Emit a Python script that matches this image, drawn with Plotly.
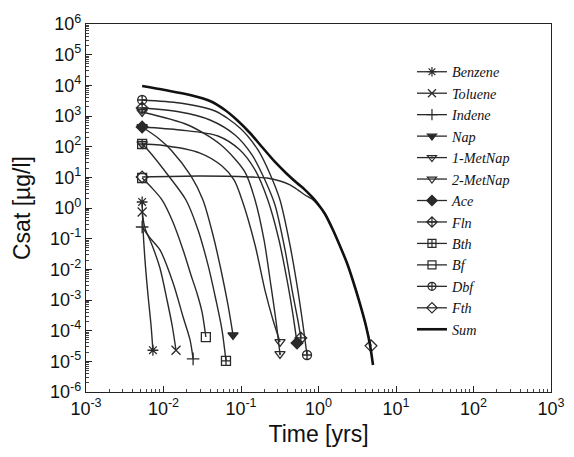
import plotly.graph_objects as go

# ---- data (time in years, Csat in ug/l) ----
names = ["Benzene", "Toluene", "Indene", "Nap", "1-MetNap", "2-MetNap",
         "Ace", "Fln", "Bth", "Bf", "Dbf", "Fth"]

benzene_t = [0.0053, 0.00544, 0.00577, 0.00631, 0.0069, 0.0073]
benzene_c = [1.57, 0.22, 0.020, 0.00145, 1.53e-4, 2.3e-5]

toluene_t = [0.0053, 0.00577, 0.00711, 0.0090, 0.0111, 0.0129, 0.0145]
toluene_c = [0.74, 0.22, 0.062, 0.011, 0.0010, 1.53e-4, 2.3e-5]

indene_t = [0.0053, 0.0067, 0.0090, 0.0133, 0.0179, 0.0220, 0.0241]
indene_c = [0.24, 0.105, 0.043, 0.0036, 2.8e-4, 5.0e-5, 1.2e-5]

nap_t = [0.0053, 0.0085, 0.0125, 0.0226, 0.0323, 0.0435, 0.0552, 0.0679, 0.0789]
nap_c = [438, 192, 78, 11.1, 1.82, 0.132, 0.0095, 6.9e-4, 7.2e-5]

metnap1_t = [0.0053, 0.0207, 0.0552, 0.1126, 0.1518, 0.1982, 0.2427, 0.2817, 0.3186]
metnap1_c = [1350, 509, 113, 14.9, 1.82, 0.0906, 0.00309, 2.23e-4, 1.74e-5]

metnap2_t = [0.0053, 0.0090, 0.0296, 0.0569, 0.0813, 0.1031, 0.1518, 0.2036, 0.2588, 0.3186]
metnap2_c = [122, 113, 62, 23.4, 8.2, 1.82, 0.062, 0.0021, 2.23e-4, 4.3e-5]

ace_t = [0.0053, 0.0163, 0.0504, 0.0970, 0.1518, 0.2219, 0.309, 0.4036, 0.4688, 0.528]
ace_c = [438, 350, 223, 78, 17.4, 1.82, 0.0906, 0.00309, 3.25e-4, 3.97e-5]

fln_t = [0.0053, 0.0163, 0.0398, 0.0838, 0.1387, 0.2036, 0.2747, 0.370, 0.4688, 0.541, 0.592]
fln_c = [1820, 1350, 741, 240, 54, 8.2, 1.25, 0.0428, 0.00145, 2.23e-4, 5.8e-5]

bth_t = [0.0053, 0.0063, 0.0114, 0.0195, 0.0279, 0.0375, 0.0475, 0.0569, 0.0640]
bth_c = [122, 78, 11.9, 1.82, 0.192, 0.0139, 0.0010, 1.05e-4, 1.03e-5]

bf_t = [0.0053, 0.0071, 0.0096, 0.0129, 0.0179, 0.0226, 0.0270, 0.0314, 0.0352]
bf_c = [9.5, 4.5, 1.82, 0.406, 0.0428, 0.00655, 0.00169, 4.07e-4, 6.2e-5]

dbf_t = [0.0053, 0.0163, 0.0462, 0.0970, 0.1656, 0.2366, 0.3186, 0.4285, 0.541, 0.631, 0.711]
dbf_c = [3330, 2650, 1456, 406, 78, 12.9, 1.82, 0.0622, 0.0021, 1.53e-4, 1.61e-5]

fth_t = [0.0053, 0.0296, 0.1306, 0.2163, 0.3186, 0.4285, 0.541, 0.670, 0.824, 0.985,
         1.213, 1.538, 1.893, 2.33, 2.79, 3.43, 4.10, 4.76]
fth_c = [10.3, 11.1, 10.3, 9.5, 7.6, 5.63, 3.9, 2.66, 1.97, 1.25,
         0.638, 0.192, 0.0578, 0.0161, 0.00417, 7.43e-4, 1.42e-4, 3.2e-5]

sum_t = [0.0053, 0.0104, 0.0220, 0.0398, 0.0621, 0.0887, 0.1306, 0.1866, 0.2747,
         0.392, 0.528, 0.670, 0.824, 0.985, 1.213, 1.538, 1.893, 2.33, 2.79,
         3.43, 4.10, 4.62, 5.05]
sum_c = [9520, 7050, 4840, 3085, 1570, 741, 279, 97.7, 31.7,
         12.9, 6.54, 3.9, 2.29, 1.35, 0.638, 0.192, 0.0578, 0.0161, 0.00417,
         7.43e-4, 1.42e-4, 3.42e-5, 7.6e-6]

series_t = [benzene_t, toluene_t, indene_t, nap_t, metnap1_t, metnap2_t,
            ace_t, fln_t, bth_t, bf_t, dbf_t, fth_t]
series_c = [benzene_c, toluene_c, indene_c, nap_c, metnap1_c, metnap2_c,
            ace_c, fln_c, bth_c, bf_c, dbf_c, fth_c]

x_exps = [-3, -2, -1, 0, 1, 2, 3]
y_exps = [-6, -5, -4, -3, -2, -1, 0, 1, 2, 3, 4, 5, 6]

symbols = ["asterisk-open", "x-thin-open", "cross-thin-open", "triangle-down",
           "triangle-down-open-dot", "triangle-down-open", "diamond",
           "diamond-cross-open", "square-cross-open", "square-open",
           "circle-cross-open", "diamond-open"]

INK = "#2a2a2a"
fig = go.Figure()

for name, t, c, sym in zip(names, series_t, series_c, symbols):
    fig.add_trace(go.Scatter(x=t, y=c, mode="lines", showlegend=False,
                             line=dict(color=INK, width=1.4, shape="spline", smoothing=0.8),
                             hoverinfo="skip"))
    fig.add_trace(go.Scatter(x=[t[0], t[-1]], y=[c[0], c[-1]], mode="markers",
                             showlegend=False,
                             marker=dict(symbol=sym, size=9, color=INK,
                                         line=dict(color=INK, width=1.3))))
    fig.add_trace(go.Scatter(x=[None], y=[None], mode="lines+markers",
                             name="<i>" + name + "</i>",
                             line=dict(color=INK, width=1.3),
                             marker=dict(symbol=sym, size=8, color=INK,
                                         line=dict(color=INK, width=1.2))))

fig.add_trace(go.Scatter(x=sum_t, y=sum_c, mode="lines", name="<i>Sum</i>",
                         line=dict(color="#111111", width=2.6, shape="spline", smoothing=0.8)))


def log_axis(exps):
    vals = [10.0 ** e for e in exps]
    text = ["10<sup>%d</sup>" % e for e in exps]
    minor_vals = [m * 10.0 ** e for e in exps[:-1] for m in range(2, 10)]
    return dict(
        type="log", tickmode="array", tickvals=vals, ticktext=text,
        showgrid=False, zeroline=False, automargin=False,
        showline=True, linecolor="#222", linewidth=1.2, mirror=True,
        ticks="inside", ticklen=6, tickcolor="#222",
        minor=dict(ticks="inside", ticklen=3, tickcolor="#444",
                   tickmode="array", tickvals=minor_vals, showgrid=False),
        tickfont=dict(family="Liberation Sans, Arial", size=18, color="#111"),
    )


fig.update_xaxes(range=[-3, 3], title=dict(text="Time [yrs]", standoff=8,
                 font=dict(family="Liberation Sans, Arial", size=23, color="#111")),
                 **log_axis(x_exps))
fig.update_yaxes(range=[-6, 6], title=dict(text="Csat [µg/l]", standoff=13,
                 font=dict(family="Liberation Sans, Arial", size=23, color="#111")),
                 **log_axis(y_exps))

fig.update_layout(
    width=566, height=449,
    margin=dict(l=78, r=23, t=16, b=65),
    paper_bgcolor="white", plot_bgcolor="white",
    showlegend=True,
    legend=dict(x=0.701, y=0.913, xanchor="left", yanchor="top",
                bgcolor="rgba(0,0,0,0)", borderwidth=0,
                font=dict(family="Liberation Serif, Times New Roman", size=14.2, color="#111"),
                tracegroupgap=0, itemwidth=30),
)

fig.write_html("out.html")
